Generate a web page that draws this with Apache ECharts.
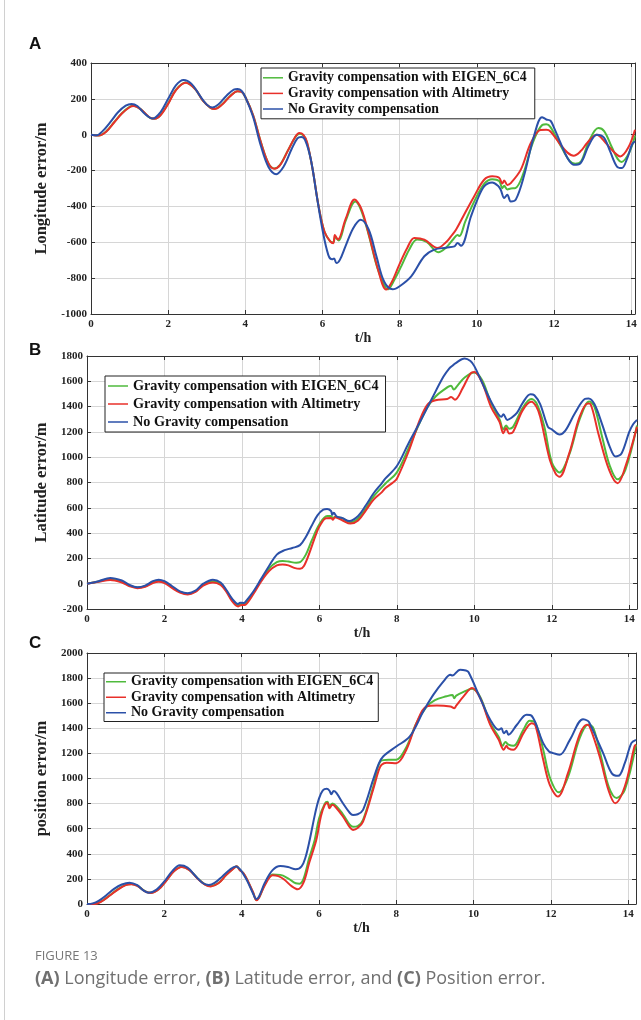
<!DOCTYPE html>
<html><head><meta charset="utf-8">
<script src="https://cdn.jsdelivr.net/npm/echarts@6/dist/echarts.min.js"></script>
<style>html,body{margin:0;padding:0;background:#fff}#c{width:641px;height:1020px}</style>
</head><body><div id="c"></div>
<script>
// ---------------- DATA ----------------
const seriesNames = ['Gravity compensation with EIGEN_6C4','Gravity compensation with Altimetry','No Gravity compensation'];
const xTickLabels = [0,2,4,6,8,10,12,14];
const lonTicks = [-1000,-800,-600,-400,-200,0,200,400];
const latTicks = [-200,0,200,400,600,800,1000,1200,1400,1600,1800];
const posTicks = [0,200,400,600,800,1000,1200,1400,1600,1800,2000];

// Panel A: longitude error (t/h, m)
const lonEigen = [[0,0],[0.2,-4],[0.4,20],[0.6,70],[0.8,120],[1.0,155],[1.1,161],[1.3,140],[1.55,92],[1.65,90],[1.8,110],[2.0,175],[2.2,250],[2.45,291],[2.7,255],[2.9,190],[3.1,150],[3.2,144],[3.4,170],[3.6,215],[3.8,243],[3.9,240],[4.0,210],[4.2,110],[4.4,-40],[4.6,-160],[4.75,-188],[4.9,-168],[5.1,-90],[5.3,-12],[5.4,6],[5.5,-3],[5.6,-45],[5.75,-200],[5.9,-400],[6.05,-540],[6.2,-595],[6.28,-600],[6.33,-572],[6.42,-590],[6.6,-480],[6.85,-372],[7.0,-420],[7.2,-560],[7.45,-760],[7.7,-862],[7.85,-815],[8.05,-730],[8.25,-640],[8.45,-585],[8.7,-598],[9.0,-655],[9.2,-630],[9.4,-580],[9.5,-560],[9.55,-565],[9.7,-485],[9.95,-365],[10.2,-272],[10.4,-248],[10.58,-258],[10.66,-298],[10.71,-285],[10.79,-305],[10.88,-300],[11.0,-298],[11.2,-220],[11.45,-45],[11.7,55],[11.8,58],[11.91,42],[12.17,-60],[12.4,-145],[12.55,-162],[12.7,-150],[12.9,-40],[13.15,37],[13.3,20],[13.5,-70],[13.65,-135],[13.75,-152],[13.95,-100],[14.1,-5]];
const lonAlt = [[0,0],[0.2,-5],[0.4,18],[0.6,68],[0.8,118],[1.0,153],[1.1,160],[1.3,140],[1.55,92],[1.65,89],[1.8,108],[2.0,172],[2.2,248],[2.45,290],[2.7,255],[2.9,190],[3.1,150],[3.2,143],[3.4,168],[3.6,213],[3.8,242],[3.9,240],[4.0,210],[4.2,110],[4.4,-40],[4.6,-160],[4.75,-190],[4.9,-170],[5.1,-90],[5.3,-10],[5.4,9],[5.5,0],[5.6,-42],[5.75,-200],[5.9,-400],[6.05,-540],[6.2,-595],[6.28,-605],[6.32,-560],[6.4,-585],[6.6,-470],[6.83,-362],[7.0,-410],[7.2,-555],[7.45,-760],[7.65,-864],[7.8,-820],[8.0,-720],[8.2,-630],[8.38,-576],[8.64,-585],[8.98,-632],[9.2,-600],[9.33,-567],[9.46,-530],[9.67,-446],[9.93,-344],[10.19,-251],[10.4,-232],[10.58,-240],[10.66,-272],[10.71,-255],[10.79,-280],[10.88,-270],[11.14,-195],[11.4,-46],[11.65,26],[11.8,27],[11.91,18],[12.17,-56],[12.35,-100],[12.51,-117],[12.7,-90],[12.86,-46],[13.11,0],[13.3,-35],[13.46,-75],[13.72,-121],[13.93,-70],[14.1,28]];
const lonNone = [[0,0],[0.15,-3],[0.3,20],[0.5,70],[0.7,125],[0.9,162],[1.05,172],[1.2,160],[1.4,115],[1.6,90],[1.8,125],[2.0,200],[2.2,275],[2.4,305],[2.6,285],[2.8,225],[3.0,168],[3.15,152],[3.3,168],[3.5,215],[3.7,252],[3.8,255],[3.9,245],[4.0,210],[4.2,100],[4.4,-60],[4.6,-180],[4.8,-220],[5.0,-175],[5.2,-80],[5.35,-20],[5.45,-13],[5.55,-30],[5.7,-140],[5.85,-340],[6.0,-530],[6.15,-670],[6.25,-695],[6.3,-690],[6.36,-716],[6.45,-698],[6.6,-620],[6.8,-520],[6.99,-474],[7.2,-530],[7.4,-680],[7.6,-820],[7.82,-862],[8.0,-845],[8.3,-790],[8.64,-678],[8.9,-641],[9.2,-630],[9.42,-623],[9.5,-604],[9.59,-620],[9.85,-455],[10.0,-370],[10.19,-288],[10.4,-266],[10.55,-285],[10.62,-307],[10.71,-353],[10.79,-335],[10.88,-372],[11.01,-362],[11.22,-232],[11.48,-9],[11.69,98],[11.8,85],[11.91,78],[12.0,40],[12.17,-46],[12.35,-130],[12.51,-167],[12.68,-160],[12.9,-60],[13.11,0],[13.29,-15],[13.45,-90],[13.63,-177],[13.76,-186],[13.9,-130],[14.02,-56],[14.1,-37]];

// Panel B: latitude error
const latEigen = [[0,0],[0.3,18],[0.6,38],[0.9,18],[1.1,-15],[1.3,-30],[1.5,-20],[1.7,12],[1.85,25],[2.0,12],[2.2,-28],[2.4,-65],[2.6,-80],[2.8,-60],[3.0,-8],[3.25,20],[3.45,0],[3.6,-58],[3.75,-130],[3.9,-170],[3.95,-162],[4.05,-160],[4.1,-155],[4.3,-70],[4.5,30],[4.7,120],[4.9,170],[5.05,180],[5.2,175],[5.4,165],[5.5,170],[5.65,230],[5.8,340],[6.0,470],[6.2,535],[6.3,535],[6.35,515],[6.4,530],[6.6,515],[6.8,485],[7.0,515],[7.2,595],[7.4,690],[7.7,790],[8.0,880],[8.3,1070],[8.6,1280],[8.8,1400],[9.0,1480],[9.2,1530],[9.4,1565],[9.47,1535],[9.55,1560],[9.75,1630],[10.0,1670],[10.2,1610],[10.43,1430],[10.65,1300],[10.75,1220],[10.82,1250],[10.9,1225],[11.0,1240],[11.25,1390],[11.47,1460],[11.6,1430],[11.8,1250],[12.0,960],[12.2,880],[12.45,1020],[12.72,1300],[12.97,1440],[13.1,1400],[13.3,1160],[13.5,930],[13.7,825],[13.9,900],[14.2,1250]];
const latAlt = [[0,0],[0.3,15],[0.6,30],[0.9,10],[1.1,-20],[1.3,-35],[1.5,-25],[1.7,5],[1.85,15],[2.0,5],[2.2,-35],[2.4,-70],[2.6,-85],[2.8,-65],[3.0,-15],[3.25,10],[3.45,-10],[3.6,-65],[3.75,-140],[3.9,-180],[3.95,-172],[4.05,-168],[4.1,-165],[4.3,-80],[4.5,20],[4.7,100],[4.9,145],[5.05,152],[5.2,145],[5.35,125],[5.5,118],[5.6,140],[5.75,250],[5.9,380],[6.0,452],[6.17,518],[6.3,520],[6.35,505],[6.4,525],[6.6,500],[6.8,475],[7.0,500],[7.2,580],[7.4,665],[7.6,720],[7.7,755],[7.9,800],[8.0,830],[8.3,1043],[8.6,1300],[8.8,1420],[9.0,1450],[9.3,1460],[9.4,1475],[9.5,1455],[9.7,1546],[9.9,1661],[10.0,1674],[10.2,1590],[10.43,1398],[10.65,1280],[10.75,1190],[10.82,1230],[10.9,1188],[11.0,1200],[11.25,1372],[11.47,1438],[11.6,1400],[11.7,1320],[11.95,977],[12.1,870],[12.2,846],[12.45,1030],[12.72,1320],[12.93,1425],[13.0,1420],[13.2,1190],[13.48,899],[13.7,794],[13.9,925],[14.2,1240]];
const latNone = [[0,0],[0.3,20],[0.6,45],[0.9,25],[1.1,-10],[1.3,-28],[1.5,-15],[1.7,20],[1.85,32],[2.0,20],[2.2,-20],[2.4,-60],[2.6,-75],[2.8,-55],[3.0,0],[3.25,32],[3.45,10],[3.6,-50],[3.75,-120],[3.9,-160],[3.95,-150],[4.05,-152],[4.1,-140],[4.3,-60],[4.5,40],[4.7,140],[4.9,230],[5.1,265],[5.3,282],[5.5,305],[5.65,370],[5.79,452],[5.95,540],[6.1,585],[6.2,590],[6.3,575],[6.33,545],[6.37,560],[6.45,530],[6.6,518],[6.77,495],[7.0,535],[7.2,620],[7.4,715],[7.6,790],[7.7,830],[8.0,930],[8.3,1109],[8.6,1280],[8.9,1460],[9.2,1635],[9.35,1700],[9.45,1727],[9.5,1740],[9.75,1780],[9.9,1760],[10.0,1720],[10.2,1590],[10.4,1460],[10.6,1350],[10.7,1320],[10.75,1340],[10.85,1295],[10.95,1310],[11.1,1350],[11.25,1430],[11.45,1498],[11.55,1490],[11.7,1420],[11.9,1240],[12.0,1220],[12.2,1180],[12.35,1210],[12.6,1350],[12.85,1460],[12.95,1465],[13.1,1420],[13.3,1260],[13.5,1080],[13.65,1005],[13.8,1030],[14.0,1200],[14.1,1260],[14.2,1295]];

// Panel C: position error
const posEigen = [[0,0],[0.2,2],[0.4,27],[0.6,72],[0.8,118],[1.0,152],[1.15,160],[1.3,147],[1.5,102],[1.65,89],[1.85,117],[2.05,187],[2.25,262],[2.45,297],[2.65,272],[2.85,208],[3.05,157],[3.2,143],[3.4,167],[3.6,232],[3.8,287],[3.87,300],[3.95,272],[4.05,243],[4.15,188],[4.3,88],[4.38,32],[4.45,52],[4.6,155],[4.8,235],[5.0,232],[5.2,205],[5.4,165],[5.5,162],[5.6,200],[5.75,370],[5.89,510],[6.0,680],[6.15,800],[6.22,815],[6.27,780],[6.35,800],[6.45,780],[6.62,715],[6.88,615],[7.0,620],[7.14,670],[7.4,930],[7.6,1140],[7.8,1150],[8.0,1150],[8.26,1250],[8.52,1440],[8.78,1570],[9.0,1625],[9.3,1655],[9.45,1665],[9.5,1640],[9.55,1660],[9.74,1690],[9.96,1715],[10.17,1650],[10.43,1440],[10.65,1330],[10.75,1260],[10.82,1290],[10.9,1270],[11.03,1260],[11.29,1390],[11.45,1460],[11.6,1440],[11.8,1230],[11.97,1010],[12.2,890],[12.44,1010],[12.74,1320],[12.97,1430],[13.1,1400],[13.3,1170],[13.5,930],[13.7,845],[13.91,910],[14.2,1270]];
const posAlt = [[0,0],[0.2,0],[0.4,25],[0.6,70],[0.8,115],[1.0,150],[1.15,158],[1.3,145],[1.5,100],[1.65,88],[1.85,115],[2.05,185],[2.25,260],[2.45,295],[2.65,270],[2.85,205],[3.05,155],[3.2,140],[3.4,165],[3.6,230],[3.8,285],[3.87,300],[3.95,270],[4.05,245],[4.15,190],[4.3,90],[4.38,30],[4.45,50],[4.6,150],[4.8,230],[4.95,222],[5.1,195],[5.3,140],[5.45,117],[5.6,170],[5.75,330],[5.93,510],[6.05,700],[6.15,790],[6.22,805],[6.27,763],[6.35,790],[6.45,765],[6.62,697],[6.8,610],[6.88,590],[7.0,605],[7.14,657],[7.4,910],[7.55,1070],[7.62,1110],[7.75,1125],[8.0,1122],[8.26,1229],[8.52,1441],[8.78,1574],[9.05,1582],[9.4,1574],[9.5,1560],[9.55,1580],[9.74,1654],[9.96,1721],[10.17,1641],[10.43,1428],[10.65,1308],[10.78,1229],[10.85,1260],[10.9,1240],[11.03,1229],[11.29,1362],[11.5,1441],[11.6,1420],[11.8,1149],[11.97,949],[12.18,856],[12.44,1043],[12.74,1348],[12.93,1428],[13.0,1415],[13.26,1176],[13.5,896],[13.66,803],[13.91,936],[14.16,1255],[14.2,1270]];
const posNone = [[0,0],[0.15,5],[0.3,25],[0.5,70],[0.7,120],[0.9,155],[1.1,170],[1.3,150],[1.45,110],[1.6,90],[1.8,115],[2.0,180],[2.2,260],[2.4,308],[2.6,290],[2.8,225],[3.0,165],[3.15,152],[3.3,168],[3.5,220],[3.7,275],[3.85,298],[3.95,280],[4.05,235],[4.15,180],[4.3,80],[4.38,40],[4.45,60],[4.6,170],[4.8,270],[5.0,303],[5.2,295],[5.4,277],[5.55,300],[5.65,370],[5.76,510],[5.9,720],[6.0,840],[6.1,905],[6.2,918],[6.27,904],[6.32,875],[6.38,900],[6.45,885],[6.62,803],[6.8,725],[6.88,710],[7.0,715],[7.14,750],[7.4,989],[7.55,1120],[7.66,1176],[8.0,1255],[8.35,1335],[8.7,1535],[8.96,1668],[9.22,1774],[9.4,1827],[9.45,1820],[9.65,1867],[9.8,1860],[9.87,1846],[10.17,1641],[10.43,1468],[10.65,1388],[10.72,1400],[10.78,1360],[10.85,1380],[10.9,1348],[11.12,1428],[11.37,1508],[11.5,1500],[11.8,1282],[11.95,1215],[12.06,1202],[12.23,1189],[12.49,1308],[12.83,1473],[12.95,1460],[13.0,1441],[13.35,1202],[13.57,1043],[13.74,1021],[13.91,1122],[14.08,1282],[14.2,1308]];

// ---------------- CHART ----------------
const COLORS = ['#4fba3c','#e8302a','#2b50a8'];
const SERIF = '"Liberation Serif","Times New Roman",serif';
const AX = '#333';
const GRIDC = '#d6d6d6';

const panels = [
  {grid:{left:91,top:63,right:6,height:251}, xmax:14.1, ticks:lonTicks, yname:'Longitude error/m', ygap:41,
   data:[lonEigen,lonAlt,lonNone], legend:{left:261,top:68,lh:15.6,fs:13.8,pad:[2,8,2,2]}},
  {grid:{left:87,top:356,right:4,height:253}, xmax:14.2, ticks:latTicks, yname:'Latitude error/m', ygap:34,
   data:[latEigen,latAlt,latNone], legend:{left:105,top:376,lh:18,fs:14.2,pad:[1,7,1,3]}},
  {grid:{left:87,top:653,right:5,height:251}, xmax:14.2, ticks:posTicks, yname:'position error/m', ygap:31,
   data:[posEigen,posAlt,posNone], legend:{left:104,top:673,lh:15.5,fs:14,pad:[1,5,1,2]}}
];

const option = {backgroundColor:'#fff', animation:false, grid:[], xAxis:[], yAxis:[], series:[], legend:[], graphic:[]};

panels.forEach((p,i)=>{
  option.grid.push(Object.assign({show:false, containLabel:false}, p.grid));
  const xiB = option.xAxis.length;
  const tickStyle = {show:true, inside:true, length:4, lineStyle:{color:AX}};
  option.xAxis.push({type:'value', gridIndex:i, position:'bottom', min:0, max:p.xmax, interval:xTickLabels[1]-xTickLabels[0],
    axisLine:{show:true,onZero:false,lineStyle:{color:AX,width:1}}, axisTick:tickStyle,
    splitLine:{show:true,lineStyle:{color:GRIDC,width:1}},
    axisLabel:{margin:5, color:'#222', fontFamily:SERIF, fontWeight:'bold', fontSize:11,
      formatter:v=> xTickLabels.indexOf(v)>=0 ? String(v) : ''},
    name:'t/h', nameLocation:'middle', nameGap:15, nameTextStyle:{fontFamily:SERIF,fontWeight:'bold',fontSize:14,color:'#222'}});
  option.xAxis.push({type:'value', gridIndex:i, position:'top', min:0, max:p.xmax, interval:2,
    axisLine:{show:true,onZero:false,lineStyle:{color:AX,width:1}}, axisTick:tickStyle,
    splitLine:{show:false}, axisLabel:{show:false}});
  const ymin = p.ticks[0], ymax = p.ticks[p.ticks.length-1], yint = p.ticks[1]-p.ticks[0];
  const yiL = option.yAxis.length;
  option.yAxis.push({type:'value', gridIndex:i, position:'left', min:ymin, max:ymax, interval:yint,
    axisLine:{show:true,onZero:false,lineStyle:{color:AX,width:1}}, axisTick:tickStyle,
    splitLine:{show:true,lineStyle:{color:GRIDC,width:1}},
    axisLabel:{margin:4, color:'#222', fontFamily:SERIF, fontWeight:'bold', fontSize:11,
      formatter:v=> p.ticks.indexOf(v)>=0 ? String(v) : ''},
    name:p.yname, nameLocation:'middle', nameGap:p.ygap, nameRotate:90,
    nameTextStyle:{fontFamily:SERIF,fontWeight:'bold',fontSize:16.5,color:'#222'}});
  option.yAxis.push({type:'value', gridIndex:i, position:'right', min:ymin, max:ymax, interval:yint,
    axisLine:{show:true,onZero:false,lineStyle:{color:AX,width:1}}, axisTick:tickStyle,
    splitLine:{show:false}, axisLabel:{show:false}});
  p.data.forEach((d,k)=>{
    option.series.push({type:'line', name:seriesNames[k], xAxisIndex:xiB, yAxisIndex:yiL, data:d,
      smooth:0.35, showSymbol:false, symbol:'none', lineStyle:{color:COLORS[k], width:2}, itemStyle:{color:COLORS[k]}, z:2+k});
  });
  const L = p.legend;
  option.legend.push({orient:'vertical', left:L.left, top:L.top, data:seriesNames, icon:'rect', itemWidth:20, itemHeight:1.5,
    itemGap:0, padding:L.pad, borderColor:'#222', borderWidth:1, backgroundColor:'#fff', selectedMode:false,
    textStyle:{fontFamily:SERIF, fontWeight:'bold', fontSize:L.fs, color:'#111', lineHeight:L.lh, height:L.lh}, z:10});
});

// panel letters
[['A',46],['B',352],['C',645]].forEach(([t,y])=>{
  option.graphic.push({type:'text', left:29, top:y-10, style:{text:t, font:'bold 17px "Liberation Sans",Arial,sans-serif', fill:'#111'}});
});
// left frame line
option.graphic.push({type:'line', shape:{x1:4.5,y1:0,x2:4.5,y2:1020}, style:{stroke:'#d0d0d0',lineWidth:1}});
// caption
option.graphic.push({type:'text', left:35, top:950, style:{text:'FIGURE 13', font:'13px "Open Sans",sans-serif', fill:'#777777'}});
option.graphic.push({type:'text', left:35, top:970, style:{
  text:'{b|(A)} Longitude error, {b|(B)} Latitude error, and {b|(C)} Position error.',
  font:'18px "Open Sans",sans-serif', fill:'#707070',
  rich:{b:{fontWeight:'bold', fontFamily:'"Open Sans",sans-serif', fontSize:18, fill:'#707070'}}}});

const chart = echarts.init(document.getElementById('c'), null, {renderer:'canvas', width:641, height:1020});
chart.setOption(option);
</script>
</body></html>
